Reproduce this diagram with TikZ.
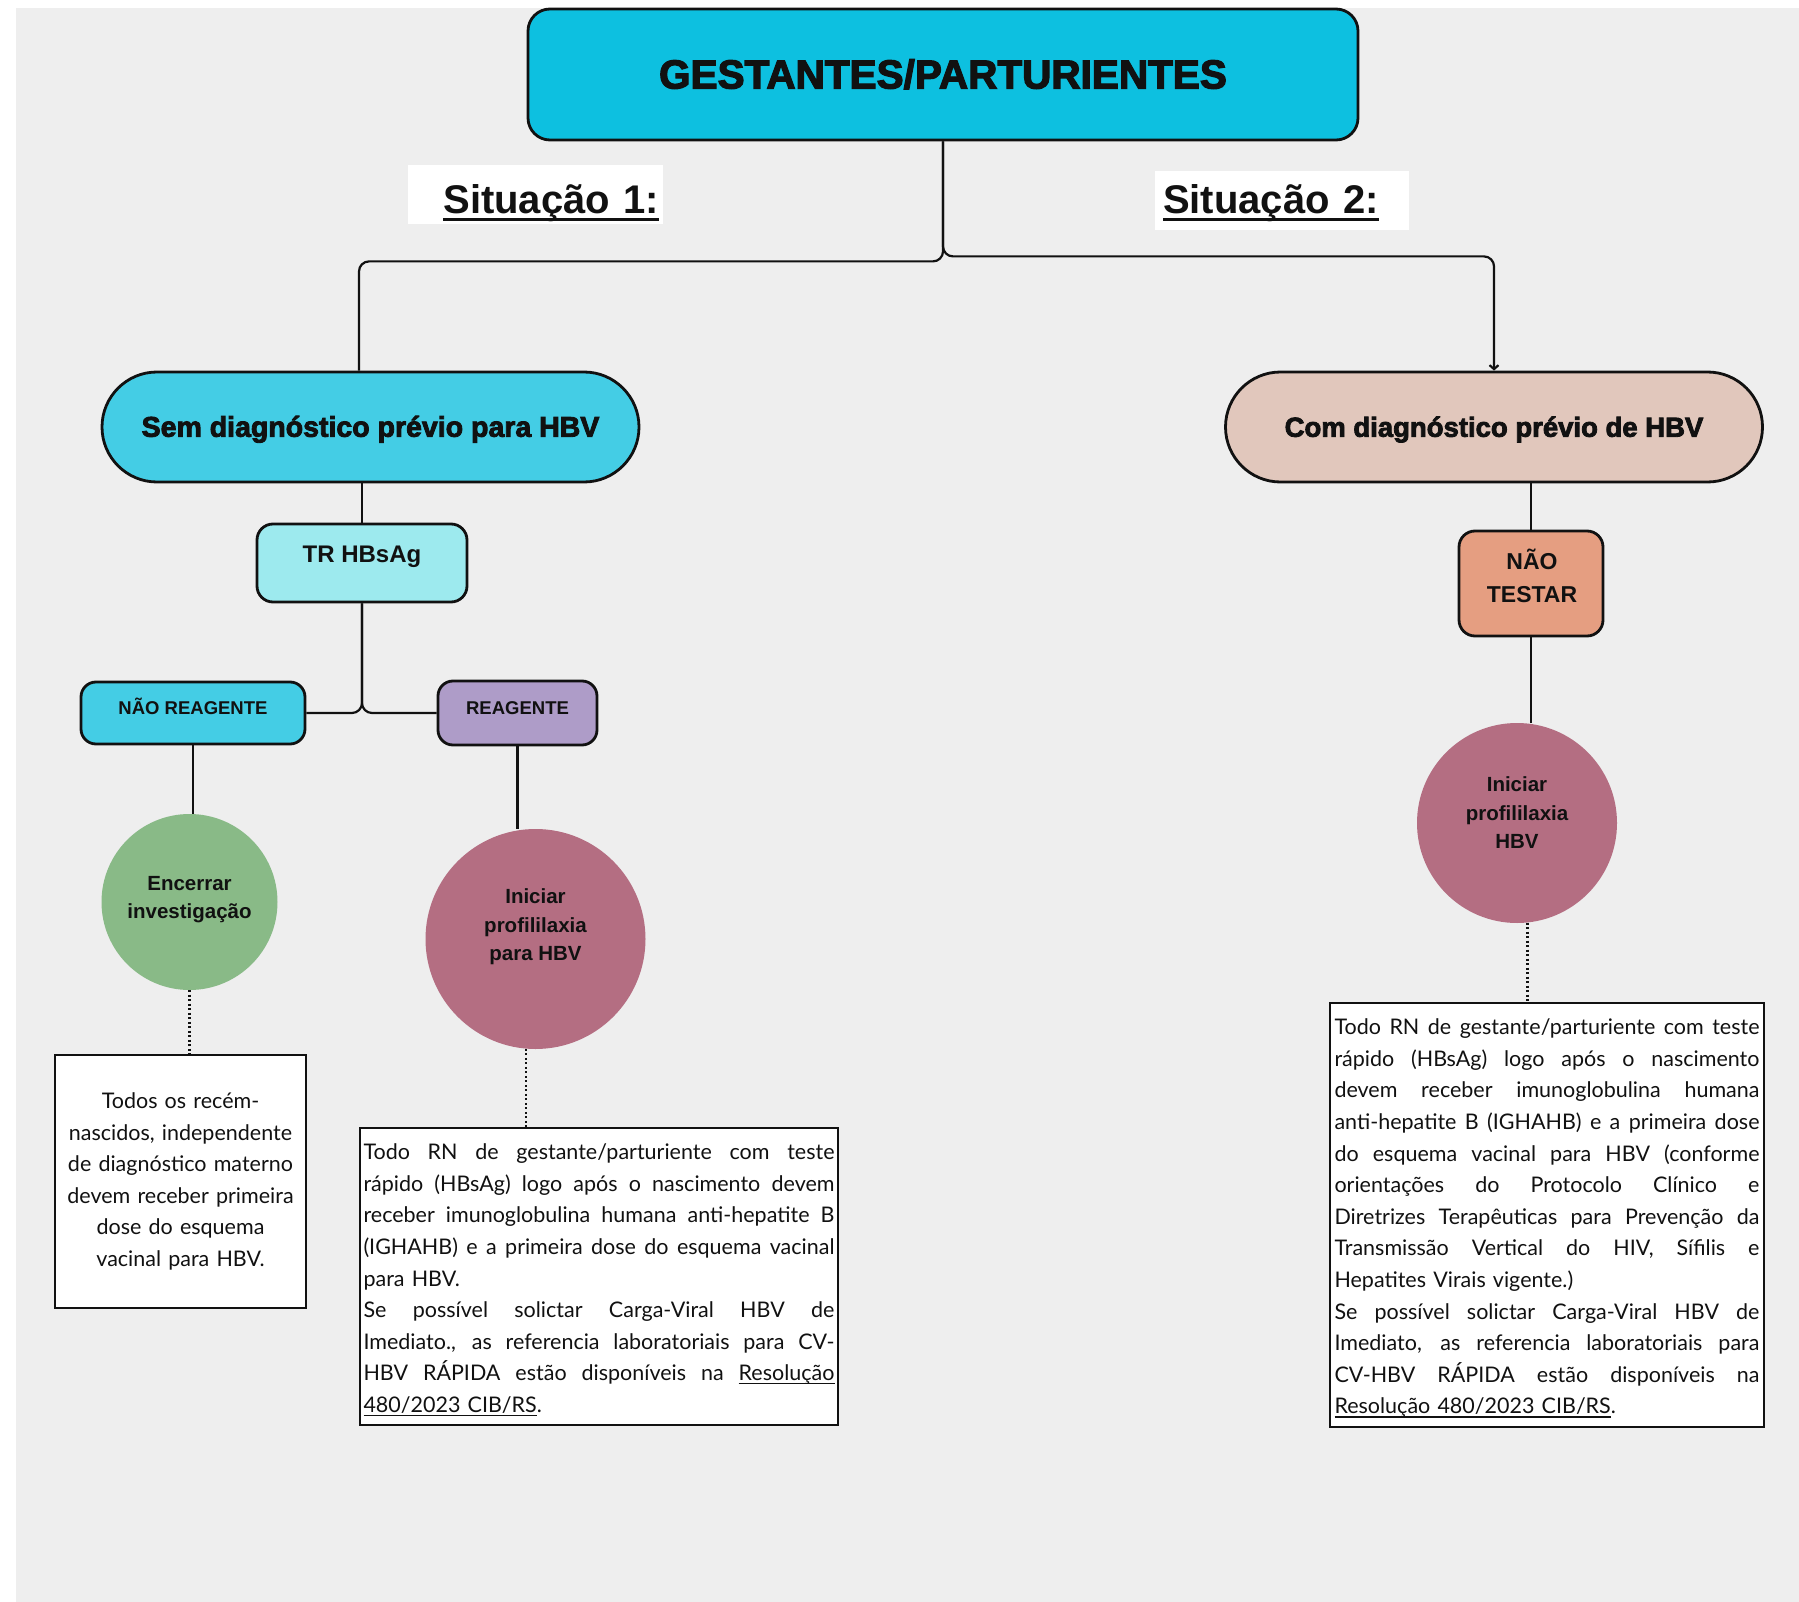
\documentclass[tikz,border=0pt]{standalone}
\usepackage{fontspec}
\setmainfont{Lato}
\newfontfamily\labelfont{Liberation Sans}
\newfontfamily\heavyfont{Liberation Sans}[BoldFeatures={FakeBold=3}]
\usetikzlibrary{arrows.meta}

\definecolor{paper}{HTML}{EEEEEE}
\definecolor{ink}{HTML}{111111}
\definecolor{titlecyan}{HTML}{0DC0E0}
\definecolor{skycyan}{HTML}{44CDE5}
\definecolor{palecyan}{HTML}{9DEAEE}
\definecolor{lavender}{HTML}{AE9CC8}
\definecolor{sage}{HTML}{89BA87}
\definecolor{mauve}{HTML}{B46E82}
\definecolor{blush}{HTML}{E1C7BC}
\definecolor{salmon}{HTML}{E59E81}

% body text: size and line pitch of the note boxes
\newcommand\bodysize{\fontsize{21.5}{31.6}\selectfont}
% justified line (spaces stretch to fill) and last line of a paragraph
\newcommand\jline[1]{\par\noindent\hbox to\hsize{\spaceskip=\fontdimen2\font plus 1fil\relax #1}}
\newcommand\lline[1]{\par\noindent\hbox to\hsize{#1\hfil}}
% underline: #1 depth of the rule's bottom below the baseline, #2 thickness, #3 text
\newcommand\ulbox[3]{\setbox0=\hbox{#3}\rlap{\rule[-#1]{\wd0}{#2}}\box0}
\newcommand\linkul[1]{\ulbox{3.6pt}{1.4pt}{#1}}

\tikzset{
  conn/.style={draw=ink, line width=2.2pt},
  dotconn/.style={draw=ink, line width=2.6pt, dash pattern=on 2pt off 2.5pt},
  framed/.style={rectangle, draw=ink, line width=2.8pt, inner sep=0pt, text=ink},
  pill/.style={framed, rounded corners=55pt, minimum width=537pt, minimum height=110pt,
    text height=19.5pt, text depth=0pt},
  pillfont/.style={font=\heavyfont\bfseries\fontsize{#1}{#1}\selectfont},
  tag/.style={framed, rounded corners=15pt,
    font=\labelfont\bfseries\fontsize{18.5}{18.5}\selectfont, text height=13.3pt, text depth=10pt},
  disc/.style={circle, inner sep=0pt},
  disctext/.style={align=center, inner sep=0pt, text=ink,
    font=\labelfont\bfseries\fontsize{20.5}{28.5}\selectfont},
  notebox/.style={rectangle, draw=ink, line width=2pt, fill=white, inner sep=0pt,
    font=\bodysize, text=ink},
  sitlabel/.style={fill=white, inner sep=0pt, minimum height=59pt, text=ink,
    font=\labelfont\bfseries\fontsize{40}{40}\selectfont},
}

\begin{document}
\begin{tikzpicture}[x=1pt, y=-1pt]
\useasboundingbox (0,0) rectangle (1799,1602);
\fill[white] (0,0) rectangle (1799,1602);
\fill[paper] (16,8) rectangle (1799,1602);

% ---- top of the tree
\node[framed, fill=titlecyan, rounded corners=22pt, minimum width=830pt, minimum height=131pt,
      font=\heavyfont\bfseries\fontsize{40.5}{40.5}\selectfont, text height=28pt, text depth=0pt]
      (title) at (943,74.5) {GESTANTES/PARTURIENTES};

\node[sitlabel, minimum width=255pt, text width=247pt, align=right, text height=38pt, text depth=0pt]
      (sit1) at (535.5,194.5) {\ulbox{8pt}{3.5pt}{Situação 1:}};
\node[sitlabel, minimum width=254pt, text width=238pt, align=left, text height=29pt, text depth=3pt]
      (sit2) at (1282,200.5) {\ulbox{8pt}{3.5pt}{Situação 2:}};

% ---- the two situations
\node[pill, pillfont=28.5, fill=skycyan] (lpill) at (370.5,427) {Sem diagnóstico prévio para HBV};
\node[pill, pillfont=27.5, fill=blush] (rpill) at (1494,427) {Com diagnóstico prévio de HBV};

% ---- left branch
\node[framed, fill=palecyan, rounded corners=16pt, minimum width=210pt, minimum height=78pt,
      font=\labelfont\bfseries\fontsize{24}{24}\selectfont, text height=17.5pt, text depth=18pt]
      (tr) at (362,563) {TR HBsAg};
\node[tag, fill=skycyan, minimum width=224pt, minimum height=62pt] (nr) at (193,713) {NÃO REAGENTE};
\node[tag, fill=lavender, minimum width=159pt, minimum height=64pt] (re) at (517.5,713) {REAGENTE};

\node[disc, fill=sage, minimum size=176pt] (gc) at (189.5,902) {};
\node[disctext] (gct) at (189.5,899.5) {Encerrar\\investigação};

\node[disc, fill=mauve, minimum size=220pt] (pk1) at (535.5,939) {};
\node[disctext] (pk1t) at (535.5,927) {Iniciar\\profililaxia\\para HBV};

\node[notebox, minimum width=251pt, minimum height=253pt, text width=243pt, align=center]
      (lbox) at (180.5,1181.5)
      {Todos os recém-\\nascidos, independente\\de diagnóstico materno\\devem receber primeira\\dose do esquema\\vacinal para HBV.};

\node[notebox, minimum width=478pt, minimum height=297pt, text width=471pt] (mbox) at (599,1276.5) {%
  \jline{Todo RN de gestante/parturiente com teste}
  \jline{rápido (HBsAg) logo após o nascimento devem}
  \jline{receber imunoglobulina humana anti-hepatite B}
  \jline{(IGHAHB) e a primeira dose do esquema vacinal}
  \lline{para HBV.}
  \jline{Se possível solictar Carga-Viral HBV de}
  \jline{Imediato., as referencia laboratoriais para CV-}
  \jline{HBV RÁPIDA estão disponíveis na \linkul{Resolução}}
  \lline{\linkul{480/2023 CIB/RS}.}\par\kern9pt};

% ---- right branch
\node[framed, fill=salmon, rounded corners=16pt, minimum width=144pt, minimum height=105pt] (nt) at (1531,583.5) {};
\node[align=center, inner sep=0pt, text=ink, font=\labelfont\bfseries\fontsize{23}{33}\selectfont]
      (ntt) at (1532,576) {NÃO\\TESTAR};

\node[disc, fill=mauve, minimum size=200pt] (pk2) at (1517,823) {};
\node[disctext] (pk2t) at (1517,813) {Iniciar\\profililaxia\\HBV};

\node[notebox, minimum width=434pt, minimum height=424pt, text width=425pt] (rbox) at (1547,1215) {%
  \jline{Todo RN de gestante/parturiente com teste}
  \jline{rápido (HBsAg) logo após o nascimento}
  \jline{devem receber imunoglobulina humana}
  \jline{anti-hepatite B (IGHAHB) e a primeira dose}
  \jline{do esquema vacinal para HBV (conforme}
  \jline{orientações do Protocolo Clínico e}
  \jline{Diretrizes Terapêuticas para Prevenção da}
  \jline{Transmissão Vertical do HIV, Sífilis e}
  \lline{Hepatites Virais vigente.)}
  \jline{Se possível solictar Carga-Viral HBV de}
  \jline{Imediato, as referencia laboratoriais para}
  \jline{CV-HBV RÁPIDA estão disponíveis na}
  \lline{\linkul{Resolução 480/2023 CIB/RS}.}\par\kern9pt};

% ---- connectors
\draw[conn, rounded corners=10pt] (title.south) -- ++(0,120) -| ([xshift=-11.5pt]lpill.north);
\draw[conn, rounded corners=10pt, -{Straight Barb[length=4pt,width=9pt]}]
      (title.south) -- ++(0,115) -| (rpill.north);

\draw[conn] (tr.north) -- (tr.north |- lpill.south);
\draw[conn, rounded corners=10pt] (tr.south) |- (nr.east);
\draw[conn, rounded corners=10pt] (tr.south) |- (re.west);
\draw[conn] (nr.south) -- (nr.south |- gc.north);
\draw[conn] (re.south) -- (re.south |- pk1.north);
\draw[dotconn] (gc.south) -- (gc.south |- lbox.north);
\draw[dotconn] (pk1.-95) -- (pk1.-95 |- mbox.north);

\draw[conn] (nt.north) -- (nt.north |- rpill.south);
\draw[conn] (nt.south) -- (nt.south |- pk2.north);
\draw[dotconn] (pk2.-84) -- (pk2.-84 |- rbox.north);
\end{tikzpicture}
\end{document}
